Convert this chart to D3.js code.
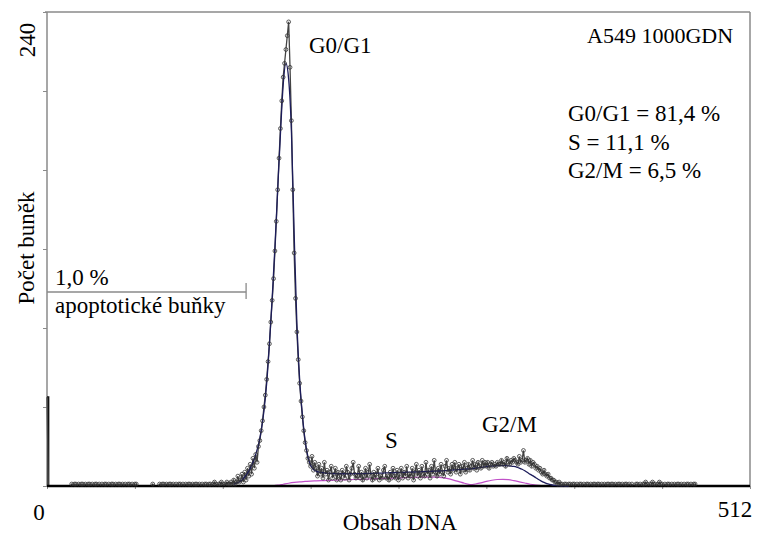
<!DOCTYPE html>
<html>
<head>
<meta charset="utf-8">
<script src="https://cdn.jsdelivr.net/npm/d3@7"></script>
<style>
  html, body { margin: 0; padding: 0; background: #fff; }
  svg { display: block; }
</style>
</head>
<body>
<svg id="chart" width="759" height="535"></svg>
<script>
// DNA histogram: counts per channel (0..511)
const counts = [
  45,0,0,0,0,0,0,0,0,0,0,0,0,0,0,0,
  0,0,1,0,1,1,0,1,0,1,1,0,1,0,1,1,
  0,1,0,1,1,0,1,0,1,0,1,1,0,1,0,1,
  1,0,1,0,1,1,0,1,0,1,0,1,1,0,1,0,
  1,1,0,0,0,0,0,0,0,0,0,0,0,1,0,0,
  0,0,1,0,1,1,0,1,0,1,1,0,1,0,1,0,
  1,1,0,1,0,1,0,1,1,0,1,0,1,1,0,1,
  0,1,0,1,1,0,1,1,0,1,2,1,0,1,1,2,
  1,0,1,2,1,1,2,1,3,1,2,5,2,3,6,2,
  7,3,9,5,11,6,14,9,16,12,20,23,28,33,40,46,
  54,63,72,83,94,105,119,134,150,166,181,195,207,214,221,228,
  235,212,185,150,118,95,78,64,52,43,35,28,22,18,14,12,
  10,15,8,12,9,5,11,6,9,4,12,6,8,3,7,10,
  4,6,9,3,7,5,3,8,6,4,10,7,3,6,9,12,
  6,4,5,10,4,7,3,5,9,4,7,11,5,3,7,4,
  6,9,3,5,4,8,10,4,5,3,7,4,9,5,4,8,
  3,6,9,4,7,5,10,4,6,5,9,3,7,11,5,8,
  4,10,6,5,12,6,8,4,10,6,13,7,5,9,6,11,
  7,5,10,13,7,9,6,11,8,12,7,9,11,6,10,8,
  12,7,9,11,8,10,13,9,11,8,12,10,9,13,10,12,
  10,12,9,11,12,10,11,10,12,11,11,13,11,12,10,14,
  12,11,13,12,14,13,12,11,15,12,13,18,12,13,14,11,
  13,10,12,11,9,10,8,9,7,6,8,6,5,6,4,4,
  3,3,2,2,1,2,1,1,0,1,1,0,1,1,0,1,
  1,0,1,0,1,1,0,1,0,1,1,0,1,0,1,1,
  0,1,1,0,1,0,1,0,1,1,0,1,1,0,1,0,
  1,1,0,1,0,1,1,0,1,0,1,0,0,1,1,0,
  1,0,1,1,2,1,0,1,1,2,1,1,0,1,2,1,
  1,0,1,0,1,1,0,1,0,1,0,1,1,0,1,0,
  1,0,1,1,0,1,0,1,1,0,0,0,0,0,0,0,
  0,0,0,0,0,0,0,0,0,0,0,0,0,0,0,0,
  0,0,0,0,0,0,0,0,0,0,0,0,0,0,0,0
];

// Model fit (total), sampled every 2 channels from channel 136
const fitStart = 136, fitStep = 2;
const fitTotal = [
  1,1.5,2,3,4.5,6.5,9,12,16,21,28,38,52,72,95,121,
  150,178,203,214,206,180,128,82,54,36,23,15,10.5,8.5,7.5,7,
  6.8,6.6,6.5,6.4,6.3,6.3,6.2,6.2,6.2,6.2,6.2,6.2,6.2,6.3,6.3,6.3,
  6.3,6.4,6.4,6.4,6.5,6.5,6.5,6.6,6.6,6.7,6.7,6.8,6.8,6.9,6.9,7,
  7,7.1,7.1,7.2,7.2,7.3,7.3,7.4,7.4,7.5,7.6,7.6,7.7,7.8,7.9,8,
  8.1,8.2,8.3,8.4,8.5,8.6,8.7,8.8,9,9.2,9.4,9.6,9.8,10,10.1,10.2,
  10.3,10.3,10.3,10.3,10.2,10.1,9.9,9.6,9.1,8.5,7.7,6.8,5.9,5.1,4.2,3.3,
  2.5,1.8,1.2,0.8,0.5,0.3,0.2,0.1,0.1,0,0
];

// S-phase component, every 4 channels from channel 164
const sStart = 164, sStep = 4;
const sPhase = [
  0,0.4,0.9,1.4,1.8,2.1,2.3,2.5,2.6,2.7,2.8,2.9,3,3.1,3.2,3.3,
  3.4,3.5,3.6,3.7,3.8,3.9,4,4.1,4.2,4.3,4.4,4.5,4.5,4.5,4.5,4.2,
  3.7,3,2.2,1.4,0.7,0.2,0
];

// G2/M component, every 4 channels from channel 300
const g2Start = 300, g2Step = 4;
const g2m = [0,0.2,0.5,1,1.6,2.3,2.9,3.3,3.4,3.2,2.7,2.1,1.5,0.9,0.5,0.2,0];

const yTicks = [0, 40, 80, 120, 160, 200, 240];
const xTicks = [0, 64, 128, 192, 256, 320, 384, 448, 512];
const statLines = ["G0/G1 = 81,4 %", "S = 11,1 %", "G2/M = 6,5 %"];
const apoptoticEdge = 145;

const svg = d3.select("#chart");
const mLeft = 47, mRight = 750, mTop = 12, mBottom = 486;
const serif = "'Liberation Serif', 'Times New Roman', Times, serif";

const x = d3.scaleLinear().domain([0, 512]).range([mLeft, mRight]);
const y = d3.scaleLinear().domain([0, 240]).range([mBottom, mTop]);

// frame
svg.append("line").attr("x1", mLeft - 2).attr("x2", mRight).attr("y1", mTop).attr("y2", mTop)
  .attr("stroke", "#8a8a8a").attr("stroke-width", 1.5);
svg.append("line").attr("x1", mRight).attr("x2", mRight).attr("y1", mTop).attr("y2", mBottom)
  .attr("stroke", "#8a8a8a").attr("stroke-width", 1.5);

// y axis
const yAxis = d3.axisLeft(y).tickValues(yTicks).tickSize(4).tickFormat("");
const gy = svg.append("g").attr("transform", `translate(${mLeft},0)`).call(yAxis);
gy.select(".domain").remove();
gy.selectAll(".tick line").attr("stroke", "#8a8a8a").attr("stroke-width", 1);
svg.append("line").attr("x1", mLeft).attr("x2", mLeft).attr("y1", mTop).attr("y2", mBottom)
  .attr("stroke", "#8a8a8a").attr("stroke-width", 1.5);

// x axis ticks
const xAxis = d3.axisBottom(x).tickValues(xTicks).tickSize(3).tickFormat("");
const gx = svg.append("g").attr("transform", `translate(0,${mBottom})`).call(xAxis);
gx.select(".domain").remove();
gx.selectAll(".tick line").attr("stroke", "#8a8a8a");

// apoptotic region marker
svg.append("line").attr("x1", x(0)).attr("x2", x(apoptoticEdge)).attr("y1", 292).attr("y2", 292)
  .attr("stroke", "#8a8a8a").attr("stroke-width", 1.3);
svg.append("line").attr("x1", x(apoptoticEdge)).attr("x2", x(apoptoticEdge)).attr("y1", 283).attr("y2", 299)
  .attr("stroke", "#8a8a8a").attr("stroke-width", 1.3);

// model components
const comp = (start, step) => d3.line()
  .x((d, i) => x(start + i * step)).y(d => y(d)).curve(d3.curveMonotoneX);

svg.append("path").datum(sPhase).attr("d", comp(sStart, sStep))
  .attr("fill", "none").attr("stroke", "#c050c8").attr("stroke-width", 1.2);
svg.append("path").datum(g2m).attr("d", comp(g2Start, g2Step))
  .attr("fill", "none").attr("stroke", "#c050c8").attr("stroke-width", 1.2);

// data line (channel 0 drawn as a vertical step at the axis)
const dataLine = d3.line().x((d, i) => x(i)).y(d => y(d)).curve(d3.curveStepAfter);
svg.append("path").datum(counts.slice(0, 2)).attr("d", dataLine)
  .attr("fill", "none").attr("stroke", "#111").attr("stroke-width", 2);
svg.append("path").datum(counts).attr("d", d3.line().x((d, i) => x(i)).y(d => y(d)))
  .attr("fill", "none").attr("stroke", "#444").attr("stroke-width", 1.3);

// baseline
svg.append("line").attr("x1", mLeft).attr("x2", mRight).attr("y1", mBottom).attr("y2", mBottom)
  .attr("stroke", "#000").attr("stroke-width", 2.4);

// total fit
svg.append("path").datum(fitTotal).attr("d", comp(fitStart, fitStep))
  .attr("fill", "none").attr("stroke", "#1c1c5a").attr("stroke-width", 1.3);

// data point markers
svg.append("g").selectAll("circle")
  .data(counts.map((v, i) => ({ ch: i, v })).filter(d => d.v > 0 && d.ch > 0))
  .join("circle")
  .attr("cx", d => x(d.ch)).attr("cy", d => y(d.v)).attr("r", 1.9)
  .attr("fill", "none").attr("stroke", "#333").attr("stroke-width", 0.8);

// texts
const fs = 23;
const label = (sel) => sel.attr("font-family", serif).attr("fill", "#000");
label(svg.append("text")).attr("transform", "translate(35,40) rotate(-90)")
  .attr("text-anchor", "middle").attr("font-size", fs).text("240");
label(svg.append("text")).attr("transform", "translate(34,248) rotate(-90)")
  .attr("text-anchor", "middle").attr("font-size", fs).text("Počet buněk");
label(svg.append("text")).attr("x", 39).attr("y", 520).attr("text-anchor", "middle")
  .attr("font-size", fs).text("0");
label(svg.append("text")).attr("x", 735).attr("y", 517).attr("text-anchor", "middle")
  .attr("font-size", fs).text("512");
label(svg.append("text")).attr("x", 400).attr("y", 530).attr("text-anchor", "middle")
  .attr("font-size", fs).text("Obsah DNA");
label(svg.append("text")).attr("x", 309).attr("y", 53).attr("font-size", fs).text("G0/G1");
label(svg.append("text")).attr("x", 385).attr("y", 448).attr("font-size", fs).text("S");
label(svg.append("text")).attr("x", 482).attr("y", 432).attr("font-size", fs).text("G2/M");
label(svg.append("text")).attr("x", 587).attr("y", 43).attr("font-size", 22).text("A549 1000GDN");
label(svg.append("g").selectAll("text").data(statLines).join("text"))
  .attr("x", 568).attr("y", (d, i) => 121 + i * 28.5).attr("font-size", fs).text(d => d);
label(svg.append("text")).attr("x", 55).attr("y", 285).attr("font-size", fs).text("1,0 %");
label(svg.append("text")).attr("x", 55).attr("y", 313).attr("font-size", fs).text("apoptotické buňky");
</script>
</body>
</html>
